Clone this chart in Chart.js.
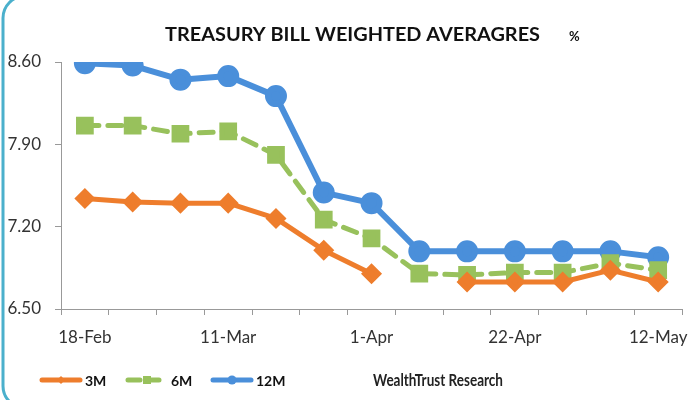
<!DOCTYPE html>
<html>
<head>
<meta charset="utf-8">
<script src="https://cdn.jsdelivr.net/npm/chart.js@4.4.0/dist/chart.umd.min.js"></script>
<style>
  html, body { margin: 0; padding: 0; background: #fff; }
  canvas { display: block; }
</style>
</head>
<body>
<canvas id="c" width="700" height="400"></canvas>
<script>
// ---- data ----
const categories = ['18-Feb','25-Feb','4-Mar','11-Mar','18-Mar','25-Mar','1-Apr','8-Apr','15-Apr','22-Apr','29-Apr','6-May','12-May'];
const shownLabels = ['18-Feb','11-Mar','1-Apr','22-Apr','12-May'];
const yTicks = [6.50, 7.20, 7.90, 8.60];
const series3M  = [7.44, 7.41, 7.40, 7.40, 7.27, 7.00, 6.80, null, 6.73, 6.73, 6.73, 6.83, 6.73];
const series6M  = [8.06, 8.06, 7.99, 8.01, 7.81, 7.26, 7.10, 6.80, 6.79, 6.81, 6.81, 6.89, 6.83];
const series12M = [8.59, 8.57, 8.45, 8.48, 8.31, 7.49, 7.40, 6.99, 6.99, 6.99, 6.99, 6.99, 6.94];
const titleText = 'TREASURY BILL WEIGHTED AVERAGRES';
const unitText = '%';
const sourceText = 'WealthTrust Research';

const ORANGE = '#EE7D2C';
const GREEN = '#98C15C';
const BLUE = '#4A8FDA';
const FONT = 'Lato, "Open Sans", sans-serif';

function fitText(ctx, text, x, y, width) {
  const w = ctx.measureText(text).width;
  ctx.save();
  ctx.translate(x, y);
  ctx.scale(width / w, 1);
  ctx.fillText(text, 0, 0);
  ctx.restore();
}

const decor = {
  id: 'decor',
  beforeDraw(chart) {
    const ctx = chart.ctx;
    ctx.save();
    ctx.fillStyle = '#fff';
    ctx.fillRect(0, 0, chart.width, chart.height);
    // rounded teal frame
    ctx.strokeStyle = '#4BB0CC';
    ctx.lineWidth = 3;
    ctx.beginPath();
    if (ctx.roundRect) ctx.roundRect(3, -4, 720, 412, 22);
    else ctx.rect(3, -4, 720, 412);
    ctx.stroke();
    ctx.restore();
  },
  afterDraw(chart) {
    const ctx = chart.ctx;
    ctx.save();
    // title
    ctx.fillStyle = '#111';
    ctx.textBaseline = 'middle';
    ctx.textAlign = 'left';
    ctx.font = 'bold 19px ' + FONT;
    fitText(ctx, titleText, 165, 35, 375);
    ctx.font = 'bold 13px ' + FONT;
    ctx.fillText(unitText, 569, 37);

    // legend
    const ly = 380;
    const items = [
      {x: 42, color: ORANGE, dash: [], w: 5, shape: 'diamond', label: '3M'},
      {x: 128, color: GREEN, dash: [12, 7], w: 5, shape: 'square', label: '6M'},
      {x: 213, color: BLUE, dash: [], w: 5, shape: 'circle', label: '12M'}
    ];
    items.forEach(it => {
      ctx.strokeStyle = it.color;
      ctx.fillStyle = it.color;
      ctx.lineWidth = it.w;
      ctx.lineCap = 'round';
      ctx.setLineDash(it.dash);
      ctx.beginPath();
      ctx.moveTo(it.x, ly);
      ctx.lineTo(it.x + 38, ly);
      ctx.stroke();
      ctx.setLineDash([]);
      const cx = it.x + 19;
      ctx.beginPath();
      if (it.shape === 'diamond') {
        ctx.moveTo(cx, ly - 4); ctx.lineTo(cx + 4, ly); ctx.lineTo(cx, ly + 4); ctx.lineTo(cx - 4, ly); ctx.closePath();
      } else if (it.shape === 'square') {
        ctx.rect(cx - 4, ly - 4, 8, 8);
      } else {
        ctx.arc(cx, ly, 4.5, 0, Math.PI * 2);
      }
      ctx.fill();
      ctx.fillStyle = '#111';
      ctx.font = 'bold 14px ' + FONT;
      ctx.textBaseline = 'middle';
      ctx.fillText(it.label, it.x + 43, ly + 1);
    });
    ctx.font = 'bold 17px ' + FONT;
    ctx.fillStyle = '#222';
    fitText(ctx, sourceText, 373, 381, 130);
    ctx.restore();
  }
};

new Chart(document.getElementById('c'), {
  type: 'line',
  data: {
    labels: categories,
    datasets: [
      {
        label: '3M', data: series3M, borderColor: ORANGE, backgroundColor: ORANGE,
        borderWidth: 5, pointStyle: 'rectRot', pointRadius: 7, pointHoverRadius: 7,
        tension: 0, spanGaps: false, borderJoinStyle: 'round'
      },
      {
        label: '6M', data: series6M, borderColor: GREEN, backgroundColor: GREEN,
        borderWidth: 5, borderDash: [14, 9], borderCapStyle: 'round',
        pointStyle: 'rect', pointRadius: 9, pointHoverRadius: 9, tension: 0
      },
      {
        label: '12M', data: series12M, borderColor: BLUE, backgroundColor: BLUE,
        borderWidth: 6, pointStyle: 'circle', pointRadius: 8, pointHoverRadius: 8,
        tension: 0, borderJoinStyle: 'round'
      }
    ]
  },
  options: {
    responsive: false,
    animation: false,
    layout: { padding: { left: 0, right: 5, top: 62, bottom: 0 } },
    plugins: {
      legend: { display: false },
      title: { display: false },
      tooltip: { enabled: false }
    },
    scales: {
      x: {
        type: 'category',
        offset: true,
        grid: { display: true, drawOnChartArea: false, offset: true, tickLength: 6, color: '#999' },
        border: { display: true, color: '#999', width: 1 },
        ticks: {
          autoSkip: false, maxRotation: 0, minRotation: 0, padding: 12,
          color: '#333', font: { family: FONT, size: 17 },
          callback: function(v) {
            const l = this.getLabelForValue(v);
            return shownLabels.includes(l) ? l : '';
          }
        },
        afterFit: s => { s.height = 91; }
      },
      y: {
        min: 6.5, max: 8.6,
        grid: { display: true, drawOnChartArea: false, tickLength: 6, color: '#999' },
        border: { display: true, color: '#999', width: 1 },
        afterBuildTicks: s => { s.ticks = yTicks.map(v => ({ value: v })); },
        ticks: {
          padding: 14, color: '#333', font: { family: FONT, size: 17 },
          callback: v => Number(v).toFixed(2)
        },
        afterFit: s => { s.width = 61; }
      }
    }
  },
  plugins: [decor]
});
</script>
</body>
</html>
